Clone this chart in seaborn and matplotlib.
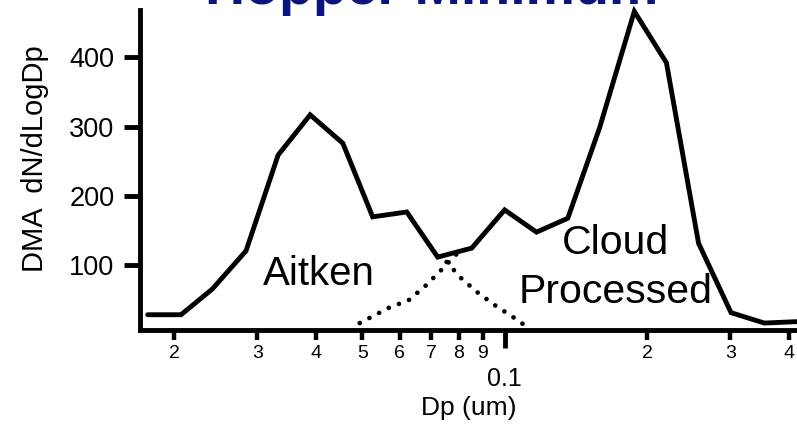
import numpy as np
import pandas as pd
import matplotlib
matplotlib.use("Agg")
import matplotlib.pyplot as plt
from matplotlib.ticker import FixedLocator, FixedFormatter
import seaborn as sns

# Size distribution (DMA), diameter in um
dp = [0.0176, 0.0207, 0.0241, 0.0284, 0.0332, 0.0388, 0.0455, 0.0526, 0.0621,
      0.0722, 0.0852, 0.1000, 0.1168, 0.1360, 0.1587, 0.1880, 0.2198, 0.2570,
      0.3010, 0.3540, 0.4140]
dndlogdp = [29, 29, 66, 121, 259, 317, 276, 170, 177, 112, 125, 180, 148, 168,
            298, 466, 392, 132, 32, 17, 19]

# Dotted mode tails where the Aitken and cloud-processed modes overlap
rise_dp = [0.0494, 0.0569, 0.0627, 0.0681, 0.0736, 0.0819]
rise_val = [17, 39, 50, 71, 94, 127]
fall_dp = [0.0754, 0.0811, 0.0877, 0.0957, 0.1045, 0.1091]
fall_val = [105, 81, 61, 42, 25, 16]

minor_ticks = [0.02, 0.03, 0.04, 0.05, 0.06, 0.07, 0.08, 0.09, 0.2, 0.3, 0.4]
minor_labels = ["2", "3", "4", "5", "6", "7", "8", "9", "2", "3", "4"]
major_ticks = [0.1]
major_labels = ["0.1"]
y_ticks = [100, 200, 300, 400]

sns.set_style("ticks")
plt.rcParams["font.family"] = ["Liberation Sans", "DejaVu Sans"]
plt.rcParams.update({
    "text.color": "black",
    "axes.labelcolor": "black",
    "xtick.color": "black",
    "ytick.color": "black",
    "axes.edgecolor": "black",
})

W, H = 797, 424
fig = plt.figure(figsize=(W / 100, H / 100), dpi=100)
ax = fig.add_axes([140 / W, 1 - 330 / H, (W - 140) / W, 320 / H])

LW = 3.5
df = pd.DataFrame({"dp": dp, "n": dndlogdp})
sns.lineplot(data=df, x="dp", y="n", ax=ax, color="black", lw=LW,
             sort=False, clip_on=False, solid_joinstyle="miter")

dots = (0, (0.01, 2.3))
sns.lineplot(x=rise_dp, y=rise_val, ax=ax, color="black", lw=3.4, sort=False,
             linestyle=dots, dash_capstyle="round")
sns.lineplot(x=fall_dp, y=fall_val, ax=ax, color="black", lw=3.4, sort=False,
             linestyle=dots, dash_capstyle="round")

ax.set_xscale("log")
ax.set_xlim(0.01695, 0.415)
ax.set_ylim(7, 468)

ax.xaxis.set_major_locator(FixedLocator(major_ticks))
ax.xaxis.set_major_formatter(FixedFormatter(major_labels))
ax.xaxis.set_minor_locator(FixedLocator(minor_ticks))
ax.xaxis.set_minor_formatter(FixedFormatter(minor_labels))
ax.set_yticks(y_ticks)

for side in ("top", "right"):
    ax.spines[side].set_visible(False)
for side in ("left", "bottom"):
    ax.spines[side].set_linewidth(LW)
    ax.spines[side].set_color("black")

ax.tick_params(axis="y", which="major", length=11.5, width=LW, pad=7,
               labelsize=19.5, color="black")
ax.tick_params(axis="x", which="major", length=13, width=LW, pad=14,
               labelsize=18, color="black")
ax.tick_params(axis="x", which="minor", length=7, width=3.2, pad=4,
               labelsize=14, color="black")

ax.set_xlabel("Dp (um)", fontsize=19, labelpad=3)
ax.set_ylabel("")
fig.text(35 / W, 1 - 159 / H, "DMA  dN/dLogDp", rotation=90, fontsize=21,
         ha="center", va="center")

ax.text(0.0308, 72, "Aitken", fontsize=29, ha="left", va="baseline")
ax.text(0.1716, 46, "Cloud\nProcessed", fontsize=29.5, ha="center",
        va="baseline", multialignment="center", linespacing=1.38)

fig.text(432 / W, 1 - 4 / H, "Hopper Minimum", fontsize=40, fontweight="bold",
         color="#0a1580", ha="center", va="baseline")

fig.savefig("out.png", dpi=100)
